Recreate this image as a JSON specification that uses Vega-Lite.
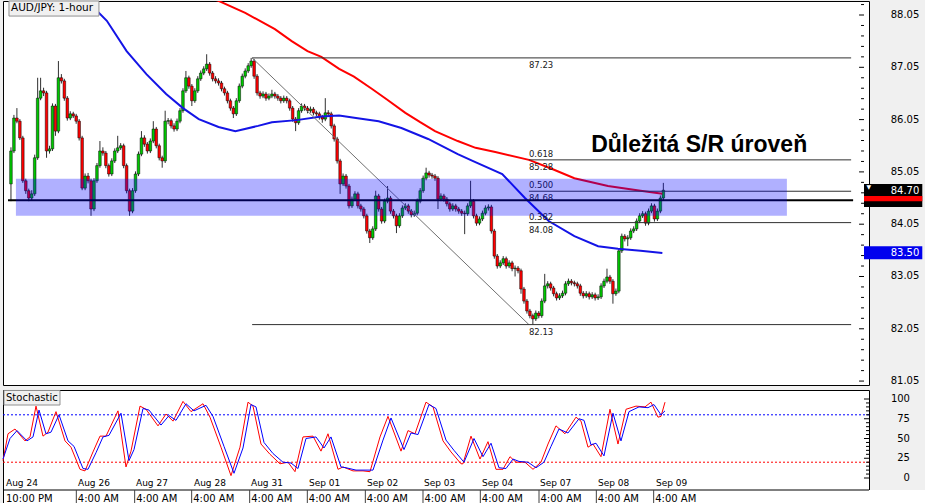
{
"$schema":"https://vega.github.io/schema/vega-lite/v6.json",
"background":"#f0f0f0",
"padding":0,
"spacing":2,
"config":{"view":{"fill":"white","stroke":"black","strokeWidth":1},"text":{"font":"DejaVu Sans"}},
"datasets":{
"candles":[
{"t":1,"o":84.82,"h":85.52,"l":84.49,"c":85.45},{"t":2,"o":85.45,"h":86.14,"l":85.41,"c":86.08},{"t":3,"o":86.08,"h":86.27,"l":85.98,"c":86.02},{"t":4,"o":86.02,"h":86.06,"l":85.66,"c":85.70},{"t":5,"o":85.70,"h":85.74,"l":84.84,"c":84.88},{"t":6,"o":84.88,"h":84.92,"l":84.63,"c":84.69},{"t":7,"o":84.69,"h":84.73,"l":84.49,"c":84.55},{"t":8,"o":84.55,"h":84.70,"l":84.51,"c":84.63},{"t":9,"o":84.63,"h":85.38,"l":84.59,"c":85.32},{"t":10,"o":85.32,"h":86.85,"l":85.28,"c":86.46},
{"t":11,"o":86.46,"h":86.85,"l":86.42,"c":86.60},{"t":12,"o":86.60,"h":86.66,"l":86.50,"c":86.56},{"t":13,"o":86.56,"h":86.60,"l":85.32,"c":85.45},{"t":14,"o":85.45,"h":85.55,"l":85.40,"c":85.49},{"t":15,"o":85.49,"h":86.36,"l":85.45,"c":86.31},{"t":16,"o":86.31,"h":86.35,"l":85.74,"c":85.83},{"t":17,"o":85.83,"h":87.17,"l":85.79,"c":86.85},{"t":18,"o":86.85,"h":86.92,"l":86.74,"c":86.79},{"t":19,"o":86.79,"h":86.83,"l":86.41,"c":86.46},{"t":20,"o":86.46,"h":86.50,"l":86.03,"c":86.08},
{"t":21,"o":86.08,"h":86.21,"l":86.04,"c":86.16},{"t":22,"o":86.16,"h":86.20,"l":86.08,"c":86.12},{"t":23,"o":86.12,"h":86.16,"l":85.97,"c":86.02},{"t":24,"o":86.02,"h":86.06,"l":85.65,"c":85.70},{"t":25,"o":85.70,"h":85.74,"l":84.70,"c":84.74},{"t":26,"o":84.74,"h":85.02,"l":84.70,"c":84.97},{"t":27,"o":84.97,"h":85.03,"l":84.83,"c":84.88},{"t":28,"o":84.88,"h":84.92,"l":84.21,"c":84.34},{"t":29,"o":84.34,"h":84.93,"l":84.30,"c":84.88},{"t":30,"o":84.88,"h":85.22,"l":84.84,"c":85.17},
{"t":31,"o":85.17,"h":85.64,"l":85.13,"c":85.45},{"t":32,"o":85.45,"h":85.52,"l":85.36,"c":85.41},{"t":33,"o":85.41,"h":85.45,"l":85.12,"c":85.17},{"t":34,"o":85.17,"h":85.21,"l":84.96,"c":85.01},{"t":35,"o":85.01,"h":85.31,"l":84.97,"c":85.26},{"t":36,"o":85.26,"h":85.50,"l":85.22,"c":85.45},{"t":37,"o":85.45,"h":85.74,"l":85.41,"c":85.51},{"t":38,"o":85.51,"h":85.60,"l":85.47,"c":85.55},{"t":39,"o":85.55,"h":85.59,"l":85.12,"c":85.17},{"t":40,"o":85.17,"h":85.21,"l":84.64,"c":84.69},
{"t":41,"o":84.69,"h":84.73,"l":84.21,"c":84.30},{"t":42,"o":84.30,"h":84.74,"l":84.26,"c":84.69},{"t":43,"o":84.69,"h":85.06,"l":84.65,"c":85.01},{"t":44,"o":85.01,"h":85.44,"l":84.97,"c":85.39},{"t":45,"o":85.39,"h":85.83,"l":85.35,"c":85.70},{"t":46,"o":85.70,"h":85.75,"l":85.53,"c":85.58},{"t":47,"o":85.58,"h":85.62,"l":85.40,"c":85.45},{"t":48,"o":85.45,"h":85.69,"l":85.41,"c":85.64},{"t":49,"o":85.64,"h":86.02,"l":85.60,"c":85.87},{"t":50,"o":85.87,"h":85.91,"l":85.50,"c":85.55},
{"t":51,"o":85.55,"h":85.59,"l":85.27,"c":85.32},{"t":52,"o":85.32,"h":85.36,"l":85.13,"c":85.26},{"t":53,"o":85.26,"h":86.22,"l":85.22,"c":86.02},{"t":54,"o":86.02,"h":86.08,"l":85.96,"c":86.03},{"t":55,"o":86.03,"h":86.07,"l":85.88,"c":85.93},{"t":56,"o":85.93,"h":85.98,"l":85.82,"c":85.87},{"t":57,"o":85.87,"h":86.07,"l":85.83,"c":86.02},{"t":58,"o":86.02,"h":86.27,"l":85.98,"c":86.22},{"t":59,"o":86.22,"h":86.65,"l":86.18,"c":86.60},{"t":60,"o":86.60,"h":86.98,"l":86.56,"c":86.85},
{"t":61,"o":86.85,"h":86.89,"l":86.64,"c":86.69},{"t":62,"o":86.69,"h":86.73,"l":86.31,"c":86.41},{"t":63,"o":86.41,"h":86.65,"l":86.37,"c":86.60},{"t":64,"o":86.60,"h":86.88,"l":86.56,"c":86.83},{"t":65,"o":86.83,"h":86.99,"l":86.79,"c":86.94},{"t":66,"o":86.94,"h":87.07,"l":86.90,"c":87.02},{"t":67,"o":87.02,"h":87.30,"l":86.98,"c":87.11},{"t":68,"o":87.11,"h":87.15,"l":86.89,"c":86.94},{"t":69,"o":86.94,"h":86.98,"l":86.78,"c":86.83},{"t":70,"o":86.83,"h":86.88,"l":86.74,"c":86.79},
{"t":71,"o":86.79,"h":86.84,"l":86.70,"c":86.75},{"t":72,"o":86.75,"h":86.79,"l":86.59,"c":86.64},{"t":73,"o":86.64,"h":86.68,"l":86.51,"c":86.56},{"t":74,"o":86.56,"h":86.60,"l":86.36,"c":86.41},{"t":75,"o":86.41,"h":86.45,"l":86.22,"c":86.27},{"t":76,"o":86.27,"h":86.31,"l":86.08,"c":86.16},{"t":77,"o":86.16,"h":86.46,"l":86.12,"c":86.41},{"t":78,"o":86.41,"h":86.74,"l":86.37,"c":86.69},{"t":79,"o":86.69,"h":86.93,"l":86.65,"c":86.88},{"t":80,"o":86.88,"h":87.03,"l":86.84,"c":86.98},
{"t":81,"o":86.98,"h":87.13,"l":86.94,"c":87.08},{"t":82,"o":87.08,"h":87.23,"l":87.04,"c":87.17},{"t":83,"o":87.17,"h":87.21,"l":86.83,"c":86.88},{"t":84,"o":86.88,"h":86.92,"l":86.51,"c":86.56},{"t":85,"o":86.56,"h":86.60,"l":86.45,"c":86.50},{"t":86,"o":86.50,"h":86.59,"l":86.46,"c":86.54},{"t":87,"o":86.54,"h":86.58,"l":86.41,"c":86.46},{"t":88,"o":86.46,"h":86.55,"l":86.42,"c":86.50},{"t":89,"o":86.50,"h":86.62,"l":86.46,"c":86.54},{"t":90,"o":86.54,"h":86.58,"l":86.45,"c":86.50},
{"t":91,"o":86.50,"h":86.54,"l":86.41,"c":86.46},{"t":92,"o":86.46,"h":86.50,"l":86.36,"c":86.41},{"t":93,"o":86.41,"h":86.51,"l":86.37,"c":86.46},{"t":94,"o":86.46,"h":86.50,"l":86.36,"c":86.41},{"t":95,"o":86.41,"h":86.45,"l":86.22,"c":86.27},{"t":96,"o":86.27,"h":86.31,"l":86.01,"c":86.06},{"t":97,"o":86.06,"h":86.10,"l":85.83,"c":85.99},{"t":98,"o":85.99,"h":86.27,"l":85.95,"c":86.22},{"t":99,"o":86.22,"h":86.36,"l":86.18,"c":86.31},{"t":100,"o":86.31,"h":86.35,"l":86.22,"c":86.27},
{"t":101,"o":86.27,"h":86.31,"l":86.17,"c":86.22},{"t":102,"o":86.22,"h":86.30,"l":86.18,"c":86.25},{"t":103,"o":86.25,"h":86.29,"l":86.13,"c":86.18},{"t":104,"o":86.18,"h":86.22,"l":86.11,"c":86.16},{"t":105,"o":86.16,"h":86.20,"l":86.05,"c":86.10},{"t":106,"o":86.10,"h":86.14,"l":85.99,"c":86.06},{"t":107,"o":86.06,"h":86.46,"l":86.02,"c":86.18},{"t":108,"o":86.18,"h":86.23,"l":86.11,"c":86.16},{"t":109,"o":86.16,"h":86.20,"l":85.88,"c":85.93},{"t":110,"o":85.93,"h":85.97,"l":85.63,"c":85.68},
{"t":111,"o":85.68,"h":85.72,"l":85.21,"c":85.26},{"t":112,"o":85.26,"h":85.30,"l":84.63,"c":84.82},{"t":113,"o":84.82,"h":85.02,"l":84.78,"c":84.97},{"t":114,"o":84.97,"h":85.01,"l":84.73,"c":84.78},{"t":115,"o":84.78,"h":84.82,"l":84.35,"c":84.40},{"t":116,"o":84.40,"h":84.58,"l":84.36,"c":84.53},{"t":117,"o":84.53,"h":84.68,"l":84.49,"c":84.63},{"t":118,"o":84.63,"h":84.67,"l":84.35,"c":84.40},{"t":119,"o":84.40,"h":84.44,"l":84.29,"c":84.34},{"t":120,"o":84.34,"h":84.38,"l":84.16,"c":84.21},
{"t":121,"o":84.21,"h":84.25,"l":83.87,"c":83.92},{"t":122,"o":83.92,"h":83.96,"l":83.69,"c":83.79},{"t":123,"o":83.79,"h":84.01,"l":83.75,"c":83.96},{"t":124,"o":83.96,"h":84.69,"l":83.92,"c":84.59},{"t":125,"o":84.59,"h":84.63,"l":84.29,"c":84.34},{"t":126,"o":84.34,"h":84.38,"l":84.06,"c":84.11},{"t":127,"o":84.11,"h":84.54,"l":84.07,"c":84.49},{"t":128,"o":84.49,"h":84.78,"l":84.45,"c":84.55},{"t":129,"o":84.55,"h":84.59,"l":84.25,"c":84.30},{"t":130,"o":84.30,"h":84.34,"l":84.16,"c":84.21},
{"t":131,"o":84.21,"h":84.25,"l":83.88,"c":84.02},{"t":132,"o":84.02,"h":84.26,"l":83.98,"c":84.21},{"t":133,"o":84.21,"h":84.41,"l":84.17,"c":84.36},{"t":134,"o":84.36,"h":84.45,"l":84.32,"c":84.40},{"t":135,"o":84.40,"h":84.44,"l":84.25,"c":84.30},{"t":136,"o":84.30,"h":84.34,"l":84.18,"c":84.23},{"t":137,"o":84.23,"h":84.31,"l":84.19,"c":84.26},{"t":138,"o":84.26,"h":84.54,"l":84.22,"c":84.49},{"t":139,"o":84.49,"h":84.74,"l":84.45,"c":84.69},{"t":140,"o":84.69,"h":84.98,"l":84.65,"c":84.93},
{"t":141,"o":84.93,"h":85.13,"l":84.89,"c":85.03},{"t":142,"o":85.03,"h":85.07,"l":84.94,"c":84.99},{"t":143,"o":84.99,"h":85.03,"l":84.92,"c":84.97},{"t":144,"o":84.97,"h":85.01,"l":84.88,"c":84.93},{"t":145,"o":84.93,"h":84.97,"l":84.34,"c":84.53},{"t":146,"o":84.53,"h":84.64,"l":84.49,"c":84.59},{"t":147,"o":84.59,"h":84.63,"l":84.48,"c":84.53},{"t":148,"o":84.53,"h":84.57,"l":84.39,"c":84.44},{"t":149,"o":84.44,"h":84.48,"l":84.29,"c":84.34},{"t":150,"o":84.34,"h":84.45,"l":84.30,"c":84.40},
{"t":151,"o":84.40,"h":84.44,"l":84.29,"c":84.34},{"t":152,"o":84.34,"h":84.38,"l":84.25,"c":84.30},{"t":153,"o":84.30,"h":84.34,"l":84.21,"c":84.26},{"t":154,"o":84.26,"h":84.31,"l":83.86,"c":84.25},{"t":155,"o":84.25,"h":84.45,"l":84.21,"c":84.40},{"t":156,"o":84.40,"h":84.88,"l":84.36,"c":84.49},{"t":157,"o":84.49,"h":84.53,"l":84.16,"c":84.21},{"t":158,"o":84.21,"h":84.25,"l":84.02,"c":84.07},{"t":159,"o":84.07,"h":84.20,"l":84.03,"c":84.15},{"t":160,"o":84.15,"h":84.31,"l":84.11,"c":84.26},
{"t":161,"o":84.26,"h":84.41,"l":84.22,"c":84.36},{"t":162,"o":84.36,"h":84.43,"l":84.31,"c":84.38},{"t":163,"o":84.38,"h":84.42,"l":83.87,"c":83.92},{"t":164,"o":83.92,"h":83.96,"l":83.39,"c":83.44},{"t":165,"o":83.44,"h":83.48,"l":83.20,"c":83.25},{"t":166,"o":83.25,"h":83.36,"l":83.21,"c":83.31},{"t":167,"o":83.31,"h":83.44,"l":83.27,"c":83.39},{"t":168,"o":83.39,"h":83.43,"l":83.20,"c":83.25},{"t":169,"o":83.25,"h":83.36,"l":83.21,"c":83.31},{"t":170,"o":83.31,"h":83.35,"l":83.15,"c":83.20},
{"t":171,"o":83.20,"h":83.26,"l":83.05,"c":83.21},{"t":172,"o":83.21,"h":83.25,"l":83.11,"c":83.16},{"t":173,"o":83.16,"h":83.20,"l":82.72,"c":82.81},{"t":174,"o":82.81,"h":82.85,"l":82.53,"c":82.58},{"t":175,"o":82.58,"h":82.62,"l":82.34,"c":82.39},{"t":176,"o":82.39,"h":82.43,"l":82.25,"c":82.30},{"t":177,"o":82.30,"h":82.34,"l":82.13,"c":82.24},{"t":178,"o":82.24,"h":82.40,"l":82.20,"c":82.35},{"t":179,"o":82.35,"h":82.39,"l":82.25,"c":82.30},{"t":180,"o":82.30,"h":82.63,"l":82.26,"c":82.58},
{"t":181,"o":82.58,"h":83.10,"l":82.54,"c":82.87},{"t":182,"o":82.87,"h":82.96,"l":82.82,"c":82.91},{"t":183,"o":82.91,"h":82.95,"l":82.78,"c":82.83},{"t":184,"o":82.83,"h":82.87,"l":82.67,"c":82.72},{"t":185,"o":82.72,"h":82.76,"l":82.59,"c":82.64},{"t":186,"o":82.64,"h":82.73,"l":82.60,"c":82.68},{"t":187,"o":82.68,"h":82.78,"l":82.64,"c":82.73},{"t":188,"o":82.73,"h":82.96,"l":82.69,"c":82.91},{"t":189,"o":82.91,"h":83.01,"l":82.87,"c":82.96},{"t":190,"o":82.96,"h":83.00,"l":82.88,"c":82.93},
{"t":191,"o":82.93,"h":82.97,"l":82.86,"c":82.91},{"t":192,"o":82.91,"h":82.95,"l":82.82,"c":82.87},{"t":193,"o":82.87,"h":82.91,"l":82.68,"c":82.73},{"t":194,"o":82.73,"h":82.77,"l":82.63,"c":82.68},{"t":195,"o":82.68,"h":82.77,"l":82.64,"c":82.72},{"t":196,"o":82.72,"h":82.76,"l":82.61,"c":82.66},{"t":197,"o":82.66,"h":82.75,"l":82.62,"c":82.70},{"t":198,"o":82.70,"h":82.74,"l":82.59,"c":82.64},{"t":199,"o":82.64,"h":82.71,"l":82.60,"c":82.66},{"t":200,"o":82.66,"h":82.92,"l":82.62,"c":82.87},
{"t":201,"o":82.87,"h":83.01,"l":82.83,"c":82.96},{"t":202,"o":82.96,"h":83.20,"l":82.92,"c":83.04},{"t":203,"o":83.04,"h":83.08,"l":82.91,"c":82.96},{"t":204,"o":82.96,"h":83.00,"l":82.53,"c":82.72},{"t":205,"o":82.72,"h":82.82,"l":82.68,"c":82.77},{"t":206,"o":82.77,"h":83.59,"l":82.73,"c":83.54},{"t":207,"o":83.54,"h":83.87,"l":83.50,"c":83.82},{"t":208,"o":83.82,"h":83.86,"l":83.72,"c":83.77},{"t":209,"o":83.77,"h":83.84,"l":83.63,"c":83.79},{"t":210,"o":83.79,"h":83.97,"l":83.75,"c":83.92},
{"t":211,"o":83.92,"h":84.01,"l":83.88,"c":83.96},{"t":212,"o":83.96,"h":84.16,"l":83.92,"c":84.11},{"t":213,"o":84.11,"h":84.26,"l":84.07,"c":84.21},{"t":214,"o":84.21,"h":84.30,"l":84.17,"c":84.25},{"t":215,"o":84.25,"h":84.29,"l":84.02,"c":84.07},{"t":216,"o":84.07,"h":84.35,"l":84.03,"c":84.30},{"t":217,"o":84.30,"h":84.45,"l":84.26,"c":84.40},{"t":218,"o":84.40,"h":84.44,"l":84.10,"c":84.15},{"t":219,"o":84.15,"h":84.35,"l":84.11,"c":84.30},{"t":220,"o":84.30,"h":84.60,"l":84.26,"c":84.55},
{"t":221,"o":84.55,"h":84.84,"l":84.51,"c":84.70}
],
"maBlue":[
{"t":23.33,"p":88.60},{"t":26.67,"p":88.32},{"t":33.33,"p":87.94},{"t":40,"p":87.36},{"t":46.67,"p":86.92},{"t":53.33,"p":86.54},{"t":59,"p":86.27},{"t":64.33,"p":86.06},{"t":71,"p":85.91},{"t":76.67,"p":85.83},{"t":84.33,"p":85.93},{"t":89,"p":86.00},{"t":97.33,"p":86.04},{"t":105.67,"p":86.11},{"t":111.67,"p":86.13},{"t":117.33,"p":86.08},{"t":125,"p":86.02},{"t":132.67,"p":85.89},{"t":141.67,"p":85.68},{"t":151.67,"p":85.39},{"t":156.67,"p":85.26},{"t":166.67,"p":85.01},{"t":174.33,"p":84.55},{"t":182.33,"p":84.11},{"t":191,"p":83.82},{"t":199,"p":83.63},{"t":205.67,"p":83.58},{"t":213.33,"p":83.54},{"t":220.67,"p":83.50}
],
"maRed":[
{"t":66.67,"p":88.41},{"t":71,"p":88.32},{"t":80,"p":88.09},{"t":90,"p":87.78},{"t":95.67,"p":87.55},{"t":101,"p":87.36},{"t":105.67,"p":87.25},{"t":111.67,"p":87.02},{"t":116.67,"p":86.87},{"t":122.67,"p":86.64},{"t":127.67,"p":86.44},{"t":134,"p":86.18},{"t":139,"p":86.00},{"t":144,"p":85.83},{"t":151.67,"p":85.64},{"t":157.67,"p":85.51},{"t":164.33,"p":85.43},{"t":175.67,"p":85.28},{"t":183.33,"p":85.11},{"t":191,"p":84.93},{"t":202.33,"p":84.78},{"t":213.33,"p":84.69},{"t":220.67,"p":84.63}
],
"fib":[
{"p":87.23,"t1":82.33,"t2":284.33,"lvl":"","lab":"87.23"},
{"p":85.28,"t1":175.67,"t2":284.33,"lvl":"0.618","lab":"85.28"},
{"p":84.68,"t1":175.67,"t2":284.33,"lvl":"0.500","lab":"84.68"},
{"p":84.08,"t1":175.67,"t2":284.33,"lvl":"0.382","lab":"84.08"},
{"p":82.13,"t1":82.33,"t2":284.33,"lvl":"","lab":"82.13"}
],
"diag":[{"t":82.33,"p":87.23},{"t":175.67,"p":82.13}],
"pmajor":[{"p":81.05},{"p":82.05},{"p":83.05},{"p":84.05},{"p":85.05},{"p":86.05},{"p":87.05},{"p":88.05}],
"pminor":[{"p":81.25},{"p":81.45},{"p":81.65},{"p":81.85},{"p":82.25},{"p":82.45},{"p":82.65},{"p":82.85},{"p":83.25},{"p":83.45},{"p":83.65},{"p":83.85},{"p":84.25},{"p":84.45},{"p":84.65},{"p":84.85},{"p":85.25},{"p":85.45},{"p":85.65},{"p":85.85},{"p":86.25},{"p":86.45},{"p":86.65},{"p":86.85},{"p":87.25},{"p":87.45},{"p":87.65},{"p":87.85},{"p":88.25}],
"smajor":[{"v":0},{"v":25},{"v":50},{"v":75},{"v":100}],
"sminor":[{"v":5},{"v":10},{"v":15},{"v":20},{"v":30},{"v":35},{"v":40},{"v":45},{"v":55},{"v":60},{"v":65},{"v":70},{"v":80},{"v":85},{"v":90},{"v":95}],
"stK":[
{"t":0,"v":22},{"t":1.67,"v":56},{"t":4,"v":62},{"t":7.33,"v":47},{"t":9,"v":52},{"t":11,"v":91},{"t":13.33,"v":53},{"t":15,"v":58},{"t":17.67,"v":84},{"t":20.67,"v":47},{"t":22.67,"v":39},{"t":25.67,"v":11},{"t":27.33,"v":9},{"t":30,"v":33},{"t":32.33,"v":53},{"t":34.33,"v":53},{"t":38.33,"v":85},{"t":41,"v":14},{"t":42.67,"v":34},{"t":45.67,"v":91},{"t":47.67,"v":87},{"t":51.67,"v":66},{"t":54.33,"v":81},{"t":56.67,"v":72},{"t":60,"v":97},{"t":62.67,"v":84},{"t":66.67,"v":94},{"t":69,"v":77},{"t":72.67,"v":39},{"t":76,"v":3},{"t":79,"v":39},{"t":81.67,"v":96},{"t":83.33,"v":91},{"t":86,"v":43},{"t":89,"v":30},{"t":92.33,"v":18},{"t":95,"v":20},{"t":97.33,"v":8},{"t":100,"v":52},{"t":103.33,"v":53},{"t":106,"v":34},{"t":108.33,"v":56},{"t":111.67,"v":11},{"t":113.33,"v":14},{"t":116.67,"v":9},{"t":120,"v":9},{"t":122.33,"v":8},{"t":125.67,"v":52},{"t":128.33,"v":78},{"t":132.67,"v":34},{"t":135,"v":60},{"t":137.33,"v":56},{"t":141,"v":96},{"t":143.33,"v":90},{"t":146.67,"v":47},{"t":149.33,"v":33},{"t":152.67,"v":18},{"t":153.33,"v":18},{"t":156,"v":53},{"t":159,"v":24},{"t":161.67,"v":46},{"t":164.33,"v":11},{"t":166.67,"v":11},{"t":169,"v":27},{"t":171,"v":20},{"t":174,"v":20},{"t":176.67,"v":11},{"t":179.33,"v":20},{"t":181.67,"v":43},{"t":184.33,"v":66},{"t":187.33,"v":56},{"t":191,"v":77},{"t":192.67,"v":72},{"t":195,"v":39},{"t":196.67,"v":43},{"t":199.33,"v":27},{"t":202.33,"v":87},{"t":205,"v":43},{"t":207.67,"v":87},{"t":211,"v":91},{"t":214,"v":90},{"t":216,"v":96},{"t":218.33,"v":77},{"t":219.33,"v":78},{"t":220.67,"v":96}
],
"stD":[
{"t":0,"v":24},{"t":2.33,"v":50},{"t":4.67,"v":60},{"t":8,"v":47},{"t":10,"v":52},{"t":12,"v":86},{"t":14.33,"v":56},{"t":16,"v":58},{"t":18.67,"v":80},{"t":21.67,"v":47},{"t":23.67,"v":40},{"t":26.67,"v":12},{"t":28.33,"v":11},{"t":31,"v":32},{"t":33.33,"v":52},{"t":35.33,"v":54},{"t":39.33,"v":82},{"t":42,"v":22},{"t":43.67,"v":36},{"t":46.67,"v":88},{"t":48.67,"v":86},{"t":52.67,"v":67},{"t":55.33,"v":79},{"t":57.67,"v":73},{"t":61,"v":94},{"t":63.67,"v":85},{"t":67.67,"v":92},{"t":70,"v":78},{"t":73.67,"v":40},{"t":77,"v":6},{"t":80,"v":38},{"t":82.67,"v":93},{"t":84.33,"v":90},{"t":87,"v":45},{"t":90,"v":31},{"t":93.33,"v":20},{"t":96,"v":19},{"t":98.33,"v":12},{"t":101,"v":50},{"t":104.33,"v":52},{"t":107,"v":38},{"t":109.33,"v":52},{"t":112.67,"v":14},{"t":114.33,"v":13},{"t":117.67,"v":10},{"t":121,"v":10},{"t":123.33,"v":10},{"t":126.67,"v":48},{"t":129.33,"v":76},{"t":133.67,"v":36},{"t":136,"v":57},{"t":138.33,"v":55},{"t":142,"v":93},{"t":144.33,"v":88},{"t":147.67,"v":48},{"t":150.33,"v":35},{"t":153.67,"v":20},{"t":157,"v":50},{"t":160,"v":27},{"t":162.67,"v":44},{"t":165.33,"v":13},{"t":167.67,"v":12},{"t":170,"v":24},{"t":172,"v":21},{"t":175,"v":20},{"t":177.67,"v":13},{"t":180.33,"v":20},{"t":182.67,"v":40},{"t":185.33,"v":62},{"t":188.33,"v":57},{"t":192,"v":75},{"t":193.67,"v":73},{"t":196,"v":42},{"t":197.67,"v":44},{"t":200.33,"v":28},{"t":203.33,"v":82},{"t":206,"v":47},{"t":208.67,"v":84},{"t":212,"v":90},{"t":215,"v":89},{"t":217,"v":93},{"t":219.33,"v":80},{"t":220.67,"v":85}
],
"days":[
{"t":1,"lab":"Aug 24"},{"t":25,"lab":"Aug 26"},{"t":44.33,"lab":"Aug 27"},{"t":63.67,"lab":"Aug 28"},{"t":82.67,"lab":"Aug 31"},{"t":102,"lab":"Sep 01"},{"t":121.33,"lab":"Sep 02"},{"t":140.33,"lab":"Sep 03"},{"t":159.67,"lab":"Sep 04"},{"t":179,"lab":"Sep 07"},{"t":198.33,"lab":"Sep 08"},{"t":217.67,"lab":"Sep 09"}
],
"seps":[{"t":24.44},{"t":43.89},{"t":62.89},{"t":82.22},{"t":101.44},{"t":120.78},{"t":140},{"t":159.11},{"t":178.67},{"t":197.78},{"t":216.89}],
"hours":[
{"t":0.5,"lab":"10:00 PM"},{"t":24.44,"lab":"4:00 AM"},{"t":43.89,"lab":"4:00 AM"},{"t":62.89,"lab":"4:00 AM"},{"t":82.22,"lab":"4:00 AM"},{"t":101.44,"lab":"4:00 AM"},{"t":120.78,"lab":"4:00 AM"},{"t":140,"lab":"4:00 AM"},{"t":159.11,"lab":"4:00 AM"},{"t":178.67,"lab":"4:00 AM"},{"t":197.78,"lab":"4:00 AM"},{"t":216.89,"lab":"4:00 AM"}
]
},
"vconcat":[
{"width":866,"height":384,
"layer":[
{"data":{"name":"candles"},"mark":{"type":"rule","color":"#303030","strokeWidth":1},
 "encoding":{
  "x":{"field":"t","type":"quantitative","scale":{"domain":[0,288.67],"nice":false,"zero":false},"axis":null},
  "y":{"field":"l","type":"quantitative","scale":{"domain":[80.975,88.318],"nice":false,"zero":false},"axis":null},
  "y2":{"field":"h"}}},
{"data":{"name":"candles"},"mark":{"type":"bar","width":2.6,"stroke":"#000000","strokeWidth":0.5},
 "encoding":{
  "x":{"field":"t","type":"quantitative","axis":null},
  "y":{"field":"o","type":"quantitative"},
  "y2":{"field":"c"},
  "color":{"condition":{"test":"datum.c >= datum.o","value":"#00c800"},"value":"#ff0000"}}},
{"data":{"name":"maRed"},"mark":{"type":"line","color":"#ff0000","strokeWidth":2,"clip":true},
 "encoding":{"x":{"field":"t","type":"quantitative","axis":null},"y":{"field":"p","type":"quantitative"}}},
{"data":{"name":"maBlue"},"mark":{"type":"line","color":"#1414e6","strokeWidth":2,"clip":true},
 "encoding":{"x":{"field":"t","type":"quantitative","axis":null},"y":{"field":"p","type":"quantitative"}}},
{"data":{"name":"diag"},"mark":{"type":"line","color":"#707070","strokeWidth":1},
 "encoding":{"x":{"field":"t","type":"quantitative","axis":null},"y":{"field":"p","type":"quantitative"}}},
{"data":{"name":"fib"},"mark":{"type":"rule","color":"#303030","strokeWidth":1},
 "encoding":{"x":{"field":"t1","type":"quantitative","axis":null},"x2":{"field":"t2"},"y":{"field":"p","type":"quantitative"}}},
{"data":{"name":"fib"},"mark":{"type":"text","align":"left","baseline":"bottom","dy":-1,"fontSize":8.5,"color":"#202020"},
 "encoding":{"x":{"datum":175.67,"type":"quantitative","axis":null},"y":{"field":"p","type":"quantitative"},"text":{"field":"lvl"}}},
{"data":{"name":"fib"},"mark":{"type":"text","align":"left","baseline":"top","dy":3,"fontSize":8.5,"color":"#202020"},
 "encoding":{"x":{"datum":175.67,"type":"quantitative","axis":null},"y":{"field":"p","type":"quantitative"},"text":{"field":"lab"}}},
{"data":{"values":[{"t1":0,"t2":285,"p":84.51}]},"mark":{"type":"rule","color":"#000000","strokeWidth":2},
 "encoding":{"x":{"field":"t1","type":"quantitative","axis":null},"x2":{"field":"t2"},"y":{"field":"p","type":"quantitative"}}},
{"data":{"values":[{"t1":2.67,"t2":262.67,"lo":84.21,"hi":84.92}]},"mark":{"type":"rect","color":"#0000ff","opacity":0.31},
 "encoding":{"x":{"field":"t1","type":"quantitative","axis":null},"x2":{"field":"t2"},"y":{"field":"lo","type":"quantitative"},"y2":{"field":"hi"}}},
{"data":{"name":"pmajor"},"mark":{"type":"rule","color":"#000000","strokeWidth":1},
 "encoding":{"x":{"datum":287,"type":"quantitative","axis":null},"x2":{"datum":288.67},"y":{"field":"p","type":"quantitative"}}},
{"data":{"name":"pminor"},"mark":{"type":"rule","color":"#000000","strokeWidth":1},
 "encoding":{"x":{"datum":287.67,"type":"quantitative","axis":null},"x2":{"datum":288.67},"y":{"field":"p","type":"quantitative"}}},
{"data":{"name":"pmajor"},"mark":{"type":"text","align":"left","baseline":"middle","fontSize":10,"color":"#000000","clip":false},
 "encoding":{"x":{"datum":297.67,"type":"quantitative","axis":null},"y":{"field":"p","type":"quantitative"},"text":{"field":"p","type":"quantitative","format":".2f"}}},
{"data":{"values":[{"t":196.67,"p":85.43,"lab":"Důležitá S/R úroveň"}]},"mark":{"type":"text","align":"left","baseline":"alphabetic","font":"Liberation Sans","fontWeight":"bold","fontSize":23,"color":"#000000"},
 "encoding":{"x":{"field":"t","type":"quantitative","axis":null},"y":{"field":"p","type":"quantitative"},"text":{"field":"lab"}}},
{"data":{"values":[{"t1":0.33,"t2":30.67,"p1":88.03,"p2":88.318}]},"mark":{"type":"rect","fill":"#f0f0f0","stroke":"#909090","strokeWidth":1},
 "encoding":{"x":{"field":"t1","type":"quantitative","axis":null},"x2":{"field":"t2"},"y":{"field":"p1","type":"quantitative"},"y2":{"field":"p2"}}},
{"data":{"values":[{"t":1,"p":88.175,"lab":"AUD/JPY: 1-hour"}]},"mark":{"type":"text","align":"left","baseline":"middle","fontSize":10.5,"color":"#000000"},
 "encoding":{"x":{"field":"t","type":"quantitative","axis":null},"y":{"field":"p","type":"quantitative"},"text":{"field":"lab"}}},
{"data":{"values":[{"lo":84.38,"hi":84.82}]},"mark":{"type":"rect","color":"#000000","clip":false},
 "encoding":{"x":{"datum":288.67,"type":"quantitative","axis":null},"x2":{"datum":308.33},"y":{"field":"lo","type":"quantitative"},"y2":{"field":"hi"}}},
{"data":{"values":[{"lo":84.49,"hi":84.59}]},"mark":{"type":"rect","color":"#ff0000","clip":false},
 "encoding":{"x":{"datum":288.67,"type":"quantitative","axis":null},"x2":{"datum":308.33},"y":{"field":"lo","type":"quantitative"},"y2":{"field":"hi"}}},
{"data":{"values":[{"lo":83.38,"hi":83.63}]},"mark":{"type":"rect","color":"#0000ee","clip":false},
 "encoding":{"x":{"datum":288.67,"type":"quantitative","axis":null},"x2":{"datum":308.33},"y":{"field":"lo","type":"quantitative"},"y2":{"field":"hi"}}},
{"data":{"values":[{"p":84.69,"lab":"84.70"},{"p":83.50,"lab":"83.50"}]},"mark":{"type":"text","align":"left","baseline":"middle","fontSize":10,"color":"#ffffff","clip":false},
 "encoding":{"x":{"datum":297.67,"type":"quantitative","axis":null},"y":{"field":"p","type":"quantitative"},"text":{"field":"lab"}}},
{"data":{"values":[{"p":84.76,"lab":"▼"}]},"mark":{"type":"text","align":"left","baseline":"middle","fontSize":6,"color":"#ffffff","clip":false},
 "encoding":{"x":{"datum":289.5,"type":"quantitative","axis":null},"y":{"field":"p","type":"quantitative"},"text":{"field":"lab"}}}
]},
{"width":866,"height":117,
"layer":[
{"data":{"values":[{"lvl":80},{"lvl":20}]},"mark":{"type":"rule","strokeWidth":1,"strokeDash":[2,2]},
 "encoding":{
  "y":{"field":"lvl","type":"quantitative","scale":{"domain":[-36.7,111.4],"nice":false,"zero":false},"axis":null},
  "color":{"condition":{"test":"datum.lvl > 50","value":"#0000ff"},"value":"#ff0000"}}},
{"data":{"name":"stK"},"mark":{"type":"line","color":"#ff0000","strokeWidth":1},
 "encoding":{"x":{"field":"t","type":"quantitative","scale":{"domain":[0,288.67],"nice":false,"zero":false},"axis":null},"y":{"field":"v","type":"quantitative"}}},
{"data":{"name":"stD"},"mark":{"type":"line","color":"#0000ff","strokeWidth":1},
 "encoding":{"x":{"field":"t","type":"quantitative","axis":null},"y":{"field":"v","type":"quantitative"}}},
{"data":{"name":"smajor"},"mark":{"type":"rule","color":"#000000","strokeWidth":1},
 "encoding":{"x":{"datum":287,"type":"quantitative","axis":null},"x2":{"datum":288.67},"y":{"field":"v","type":"quantitative"}}},
{"data":{"name":"sminor"},"mark":{"type":"rule","color":"#000000","strokeWidth":1},
 "encoding":{"x":{"datum":287.67,"type":"quantitative","axis":null},"x2":{"datum":288.67},"y":{"field":"v","type":"quantitative"}}},
{"data":{"name":"smajor"},"mark":{"type":"text","align":"right","baseline":"middle","fontSize":10,"color":"#000000","clip":false},
 "encoding":{"x":{"datum":302.33,"type":"quantitative","axis":null},"y":{"field":"v","type":"quantitative"},"text":{"field":"v","type":"quantitative"}}},
{"data":{"name":"days"},"mark":{"type":"text","align":"left","baseline":"middle","fontSize":9,"color":"#000000"},
 "encoding":{"x":{"field":"t","type":"quantitative","axis":null},"y":{"datum":-6.7,"type":"quantitative"},"text":{"field":"lab"}}},
{"data":{"values":[{"v1":-15.2,"v2":-40}]},"mark":{"type":"rect","color":"#ffffff","clip":false},
 "encoding":{"x":{"datum":288.67,"type":"quantitative","axis":null},"x2":{"datum":308.33},"y":{"field":"v1","type":"quantitative"},"y2":{"field":"v2"}}},
{"data":{"values":[{"v":-15.2}]},"mark":{"type":"rule","color":"#000000","strokeWidth":1},
 "encoding":{"y":{"field":"v","type":"quantitative"}}},
{"data":{"name":"seps"},"mark":{"type":"rule","color":"#404040","strokeWidth":1},
 "encoding":{"x":{"field":"t","type":"quantitative","axis":null},"y":{"datum":-15.2,"type":"quantitative"},"y2":{"datum":-36.7}}},
{"data":{"name":"hours"},"mark":{"type":"text","align":"left","baseline":"middle","dx":1.5,"fontSize":10,"color":"#000000"},
 "encoding":{"x":{"field":"t","type":"quantitative","axis":null},"y":{"datum":-26.6,"type":"quantitative"},"text":{"field":"lab"}}},
{"data":{"values":[{"t1":0.33,"t2":19,"v1":92.4,"v2":110.8}]},"mark":{"type":"rect","fill":"#f0f0f0","stroke":"#909090","strokeWidth":1},
 "encoding":{"x":{"field":"t1","type":"quantitative","axis":null},"x2":{"field":"t2"},"y":{"field":"v1","type":"quantitative"},"y2":{"field":"v2"}}},
{"data":{"values":[{"t":1,"v":101.5,"lab":"Stochastic"}]},"mark":{"type":"text","align":"left","baseline":"middle","fontSize":10,"color":"#000000"},
 "encoding":{"x":{"field":"t","type":"quantitative","axis":null},"y":{"field":"v","type":"quantitative"},"text":{"field":"lab"}}}
]}
]
}
